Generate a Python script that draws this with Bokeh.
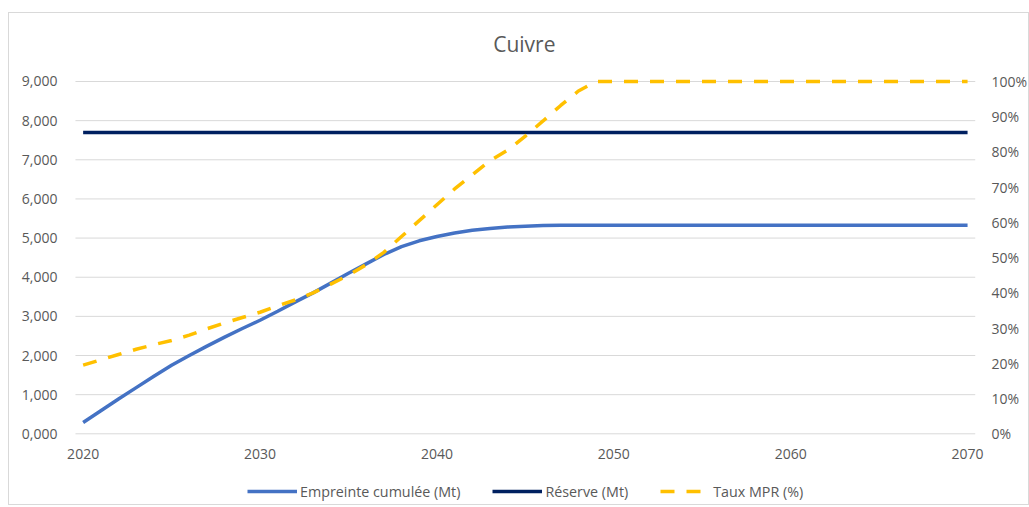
from bokeh.plotting import figure
from bokeh.models import (Range1d, LinearAxis, FixedTicker, Legend, LegendItem)
from bokeh.core.properties import value
from bokeh.embed import file_html
from bokeh.resources import INLINE

title_text = "Cuivre"
years = list(range(2020, 2071))
empreinte = [290, 590, 890, 1180, 1470, 1750, 2000, 2240, 2470, 2690,
             2900, 3130, 3370, 3600, 3850, 4100, 4340, 4580, 4780, 4930,
             5040, 5130, 5200, 5245, 5280, 5305, 5320, 5330, 5330, 5330,
             5330, 5330, 5330, 5330, 5330, 5330, 5330, 5330, 5330, 5330,
             5330, 5330, 5330, 5330, 5330, 5330, 5330, 5330, 5330, 5330,
             5330]
reserve = [7700, 7700, 7700, 7700, 7700, 7700, 7700, 7700, 7700, 7700,
           7700, 7700, 7700, 7700, 7700, 7700, 7700, 7700, 7700, 7700,
           7700, 7700, 7700, 7700, 7700, 7700, 7700, 7700, 7700, 7700,
           7700, 7700, 7700, 7700, 7700, 7700, 7700, 7700, 7700, 7700,
           7700, 7700, 7700, 7700, 7700, 7700, 7700, 7700, 7700, 7700,
           7700]
taux_mpr = [19.5, 21, 22.5, 24, 25.3, 26.5, 28, 29.8, 31.5, 33,
            34.5, 36.3, 38, 40, 42.5, 45, 48, 51.5, 56, 60.5,
            65, 69.5, 73.5, 77.5, 80.5, 84.5, 88.8, 93.2, 97.3, 100,
            100, 100, 100, 100, 100, 100, 100, 100, 100, 100,
            100, 100, 100, 100, 100, 100, 100, 100, 100, 100,
            100]
series_names = ["Empreinte cumulée (Mt)", "Réserve (Mt)", "Taux MPR (%)"]
x_ticks = [2020, 2030, 2040, 2050, 2060, 2070]
x_labels = ["2020", "2030", "2040", "2050", "2060", "2070"]
left_ticks = [0, 1000, 2000, 3000, 4000, 5000, 6000, 7000, 8000, 9000]
left_labels = ["0,000", "1,000", "2,000", "3,000", "4,000", "5,000",
               "6,000", "7,000", "8,000", "9,000"]
right_ticks = [0, 10, 20, 30, 40, 50, 60, 70, 80, 90, 100]
right_labels = ["0%", "10%", "20%", "30%", "40%", "50%", "60%", "70%",
                "80%", "90%", "100%"]

FONT = "Open Sans"
TXT = "#595959"

# The frame covers the whole chart area so that the title, the x labels and
# the legend (drawn inside it) are not clipped; gridlines are drawn as segments.
X0, X1 = 2018.89, 2071.127
Y0, Y1 = -1806, 10737
GX0, GX1 = 2019.566, 2070.434

p = figure(width=1021, height=493, output_backend="svg", toolbar_location=None,
           x_range=Range1d(X0, X1), y_range=Range1d(Y0, Y1),
           min_border_left=54, min_border_right=41, min_border_top=0,
           min_border_bottom=2, margin=(12, 0, 0, 8))
p.styles = {"border": "1px solid #d9d9d9"}
p.outline_line_color = None
p.background_fill_color = "white"
p.border_fill_color = "white"

p.extra_y_ranges = {"pct": Range1d(Y0 / 90.0, Y1 / 90.0)}

p.xaxis.visible = False
ya = p.yaxis[0]
ya.ticker = FixedTicker(ticks=left_ticks)
ya.major_label_overrides = {t: l for t, l in zip(left_ticks, left_labels)}
ra = LinearAxis(y_range_name="pct", ticker=FixedTicker(ticks=right_ticks))
ra.major_label_overrides = {t: l for t, l in zip(right_ticks, right_labels)}
p.add_layout(ra, "right")

for ax in [ya, ra]:
    ax.axis_line_color = None
    ax.major_tick_line_color = None
    ax.minor_tick_line_color = None
    ax.major_tick_in = 0
    ax.major_tick_out = 0
    ax.major_label_text_font = FONT
    ax.major_label_text_font_size = "14px"
    ax.major_label_text_color = TXT
ya.major_label_standoff = 6
ra.major_label_standoff = 4

p.xgrid.grid_line_color = None
p.ygrid.grid_line_color = None

# horizontal gridlines
p.segment(x0=[GX0] * len(left_ticks), x1=[GX1] * len(left_ticks),
          y0=left_ticks, y1=left_ticks, line_color="#d9d9d9", line_width=1)

# title
p.text(x=[2045], y=[left_ticks[-1]], text=[title_text], x_offset=-1,
       y_offset=-37, text_align="center", text_baseline="middle",
       text_font=value(FONT), text_font_size="21px", text_color=TXT)

# x tick labels
p.text(x=x_ticks, y=[0] * len(x_ticks), text=x_labels, y_offset=20,
       text_align="center", text_baseline="middle",
       text_font=value(FONT), text_font_size="14px", text_color=TXT)

r1 = p.line(years, empreinte, line_color="#4472C4", line_width=3.5)
r2 = p.line(years, reserve, line_color="#002060", line_width=3.5)
r3 = p.line(years, taux_mpr, y_range_name="pct", line_color="#FFC000",
            line_width=3.5, line_dash="14 12")

legend = Legend(items=[LegendItem(label=series_names[0], renderers=[r1]),
                       LegendItem(label=series_names[1], renderers=[r2]),
                       LegendItem(label=series_names[2], renderers=[r3])],
                orientation="horizontal", location=(184, 3),
                padding=0, margin=0, spacing=32, glyph_width=50,
                glyph_height=20, label_standoff=3,
                label_text_font=FONT, label_text_font_size="14.3px",
                label_text_color=TXT, border_line_color=None,
                background_fill_alpha=0)
p.add_layout(legend, "center")

open("out.html", "w").write(file_html(p, INLINE))
